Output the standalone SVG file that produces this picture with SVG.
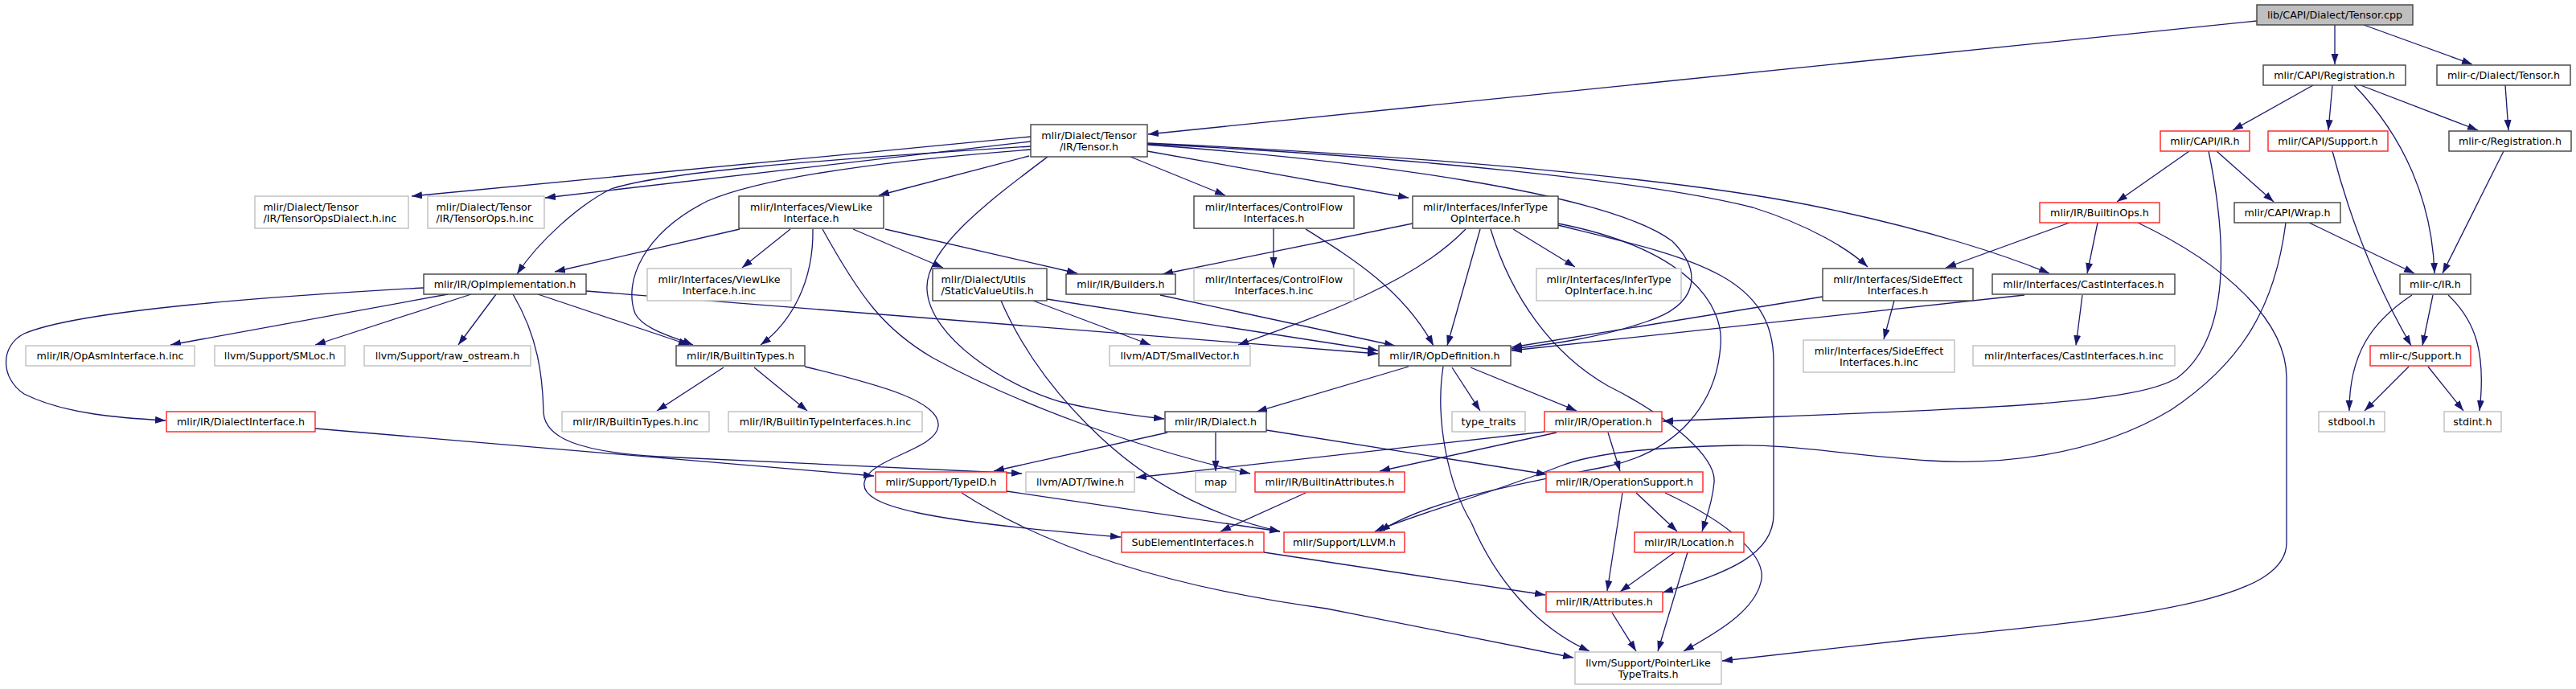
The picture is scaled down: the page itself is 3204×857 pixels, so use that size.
<svg xmlns="http://www.w3.org/2000/svg" width="3204" height="857" viewBox="0 0 3204 857">
<defs>
<marker id="a" markerUnits="userSpaceOnUse" markerWidth="14" markerHeight="10" refX="13" refY="4.5" orient="auto"><path d="M0,0 L13,4.5 L0,9 z" fill="#191970"/></marker>
<style>
.b{fill:#fff;stroke:#404040;stroke-width:1.4}
.g{fill:#fff;stroke:#bfbfbf;stroke-width:1.4}
.r{fill:#fff;stroke:#ff2020;stroke-width:1.4}
.root{fill:#bfbfbf;stroke:#404040;stroke-width:1.4}
text{font-family:"DejaVu Sans",sans-serif;font-size:12.7px;fill:#000;text-anchor:middle}
text.l{text-anchor:start}
.e path{fill:none;stroke:#191970;stroke-width:1.3;marker-end:url(#a)}
</style>
</defs>
<rect width="3204" height="857" fill="#fff"/>
<g id="edges" class="e">
<path d="M2807,26 L1428,167"/>
<path d="M2904,31 L2904,80"/>
<path d="M2940,31 L3075,80"/>
<path d="M2877,106 L2777,162"/>
<path d="M2901,106 L2896,162"/>
<path d="M2928,106 C2990,170 3025,250 3028,340"/>
<path d="M2936,106 L3082,162"/>
<path d="M3116,106 L3120,162"/>
<path d="M3114,188 L3038,340"/>
<path d="M2723,188 L2633,251"/>
<path d="M2757,188 L2828,251"/>
<path d="M2747,188 C2770,300 2775,420 2708,470 C2650,505 2450,508 2068,524"/>
<path d="M2901,188 C2930,300 2970,380 2999,430"/>
<path d="M2574,277 L2420,333"/>
<path d="M2609,277 L2596,340"/>
<path d="M2659,277 C2770,330 2844,400 2844,470 L2844,675 C2844,740 2700,765 2400,793 L2142,822"/>
<path d="M2872,277 L3003,340"/>
<path d="M2843,277 C2830,380 2790,450 2700,510 C2600,570 2480,578 2400,573 C2300,566 2220,552 2160,554 C2080,556 1990,560 1940,580 C1850,615 1760,640 1710,661"/>
<path d="M3026,367 L3013,430"/>
<path d="M3000,367 C2950,400 2922,440 2922,511"/>
<path d="M3045,367 C3080,400 3092,440 3084,511"/>
<path d="M2996,456 L2941,511"/>
<path d="M3020,456 L3064,511"/>
<path d="M2590,367 L2582,430"/>
<path d="M2518,367 L1880,436"/>
<path d="M2356,374 L2343,422"/>
<path d="M2267,369 L1880,432"/>
<path d="M1282,170 L512,244"/>
<path d="M1282,176 L678,246"/>
<path d="M1282,182 C1000,200 820,215 760,235 C720,255 670,300 643,341"/>
<path d="M1282,186 C1100,200 950,220 880,250 C800,290 775,350 790,390 C800,410 840,420 862,429"/>
<path d="M1280,194 L1093,243"/>
<path d="M1303,195 C1230,250 1150,310 1153,360 C1156,420 1250,480 1320,500 C1370,512 1420,518 1448,521"/>
<path d="M1406,195 L1524,243"/>
<path d="M1427,188 L1752,246"/>
<path d="M1427,180 C1700,200 2000,240 2080,300 C2120,340 2110,380 2048,400 C1990,420 1930,428 1880,434"/>
<path d="M1427,179 C1750,195 2050,225 2180,258 C2250,280 2300,310 2323,332"/>
<path d="M1427,178 C1800,195 2100,225 2250,255 C2400,285 2500,320 2549,340"/>
<path d="M920,285 L690,338"/>
<path d="M983,285 L923,333"/>
<path d="M1011,285 C1012,350 985,400 946,429"/>
<path d="M1023,285 C1070,370 1100,410 1160,445 C1260,500 1420,560 1555,589"/>
<path d="M1101,285 L1340,340"/>
<path d="M1061,285 L1173,333"/>
<path d="M557,366 L212,429"/>
<path d="M586,366 L392,429"/>
<path d="M617,366 L570,429"/>
<path d="M527,358 C350,368 100,385 30,415 C0,430 0,470 30,490 C80,515 150,520 206,523"/>
<path d="M669,366 L857,429"/>
<path d="M729,362 L1714,440"/>
<path d="M638,366 C670,420 675,470 676,513 C678,545 720,562 820,568 L1271,589"/>
<path d="M392,533 L1087,592"/>
<path d="M1285,374 L1431,429"/>
<path d="M1302,372 L1714,436"/>
<path d="M1245,374 C1265,420 1300,480 1370,545 C1440,610 1520,645 1592,661"/>
<path d="M1443,367 L1735,430"/>
<path d="M1584,284 L1584,333"/>
<path d="M1624,285 C1680,320 1745,360 1783,430"/>
<path d="M1757,278 L1446,341"/>
<path d="M1823,285 C1760,350 1650,390 1540,429"/>
<path d="M1841,285 L1800,430"/>
<path d="M1882,285 L1959,332"/>
<path d="M1854,285 C1880,370 1930,440 2000,480 C2080,520 2135,570 2132,600 C2130,625 2122,645 2117,661"/>
<path d="M1938,278 C2100,310 2145,380 2140,430 C2135,500 2090,560 2000,580 C1900,600 1780,620 1716,661"/>
<path d="M1938,280 C2100,320 2206,340 2206,450 L2206,640 C2206,690 2150,712 2068,737"/>
<path d="M900,457 L817,511"/>
<path d="M938,457 L1004,511"/>
<path d="M1001,456 C1100,480 1170,500 1167,530 C1164,560 1080,570 1075,600 C1070,630 1150,648 1394,668"/>
<path d="M1752,456 L1563,512"/>
<path d="M1806,457 L1841,511"/>
<path d="M1829,457 L1961,511"/>
<path d="M1795,456 C1785,520 1800,600 1830,650 C1860,720 1910,780 1977,810"/>
<path d="M1452,538 L1236,586"/>
<path d="M1512,538 L1512,586"/>
<path d="M1575,535 L1924,590"/>
<path d="M1921,537 L1413,594"/>
<path d="M1936,538 L1716,586"/>
<path d="M2000,538 L2015,586"/>
<path d="M1252,611 L1592,661"/>
<path d="M1196,613 C1300,680 1450,730 1650,757 L1957,818"/>
<path d="M1624,613 L1518,661"/>
<path d="M2018,613 L1999,735"/>
<path d="M2035,613 L2086,661"/>
<path d="M2071,613 C2150,650 2195,690 2191,720 C2185,760 2130,790 2094,810"/>
<path d="M1572,687 L1922,740"/>
<path d="M2083,687 L2015,736"/>
<path d="M2099,687 L2062,810"/>
<path d="M2005,762 L2035,810"/>
</g>
<g id="n1"><rect class="root" x="2807" y="6" width="194" height="25"/><text x="2904" y="23">lib/CAPI/Dialect/Tensor.cpp</text></g>
<g id="n2"><rect class="b" x="2815" y="81" width="177" height="25"/><text x="2903.5" y="98">mlir/CAPI/Registration.h</text></g>
<g id="n3"><rect class="b" x="3031" y="81" width="166" height="25"/><text x="3114" y="98">mlir-c/Dialect/Tensor.h</text></g>
<g id="n4"><rect class="b" x="1282" y="155" width="145" height="40"/><text x="1354.5" y="172.5">mlir/Dialect/Tensor</text><text x="1354.5" y="186.5">/IR/Tensor.h</text></g>
<g id="n5"><rect class="r" x="2687" y="163" width="111" height="25"/><text x="2742.5" y="180">mlir/CAPI/IR.h</text></g>
<g id="n6"><rect class="r" x="2821" y="163" width="149" height="25"/><text x="2895.5" y="180">mlir/CAPI/Support.h</text></g>
<g id="n7"><rect class="b" x="3046" y="163" width="152" height="25"/><text x="3122" y="180">mlir-c/Registration.h</text></g>
<g id="n8"><rect class="g" x="317" y="244" width="191" height="40"/><text class="l" x="327.5" y="261.5">mlir/Dialect/Tensor</text><text class="l" x="327.5" y="275.5">/IR/TensorOpsDialect.h.inc</text></g>
<g id="n9"><rect class="g" x="532" y="244" width="145" height="40"/><text class="l" x="542.5" y="261.5">mlir/Dialect/Tensor</text><text class="l" x="542.5" y="275.5">/IR/TensorOps.h.inc</text></g>
<g id="n10"><rect class="b" x="919" y="244" width="180" height="40"/><text x="1009" y="261.5">mlir/Interfaces/ViewLike</text><text x="1009" y="275.5">Interface.h</text></g>
<g id="n11"><rect class="b" x="1485" y="244" width="199" height="40"/><text x="1584.5" y="261.5">mlir/Interfaces/ControlFlow</text><text x="1584.5" y="275.5">Interfaces.h</text></g>
<g id="n12"><rect class="b" x="1757" y="244" width="181" height="40"/><text x="1847.5" y="261.5">mlir/Interfaces/InferType</text><text x="1847.5" y="275.5">OpInterface.h</text></g>
<g id="n13"><rect class="r" x="2537" y="252" width="149" height="25"/><text x="2611.5" y="269">mlir/IR/BuiltinOps.h</text></g>
<g id="n14"><rect class="b" x="2779" y="252" width="132" height="25"/><text x="2845" y="269">mlir/CAPI/Wrap.h</text></g>
<g id="n15"><rect class="b" x="527" y="341" width="202" height="25"/><text x="628" y="358">mlir/IR/OpImplementation.h</text></g>
<g id="n16"><rect class="g" x="805" y="334" width="179" height="40"/><text x="894.5" y="351.5">mlir/Interfaces/ViewLike</text><text x="894.5" y="365.5">Interface.h.inc</text></g>
<g id="n17"><rect class="b" x="1160" y="334" width="142" height="40"/><text class="l" x="1170.5" y="351.5">mlir/Dialect/Utils</text><text class="l" x="1170.5" y="365.5">/StaticValueUtils.h</text></g>
<g id="n18"><rect class="b" x="1326" y="341" width="136" height="25"/><text x="1394" y="358">mlir/IR/Builders.h</text></g>
<g id="n19"><rect class="g" x="1485" y="334" width="199" height="40"/><text x="1584.5" y="351.5">mlir/Interfaces/ControlFlow</text><text x="1584.5" y="365.5">Interfaces.h.inc</text></g>
<g id="n20"><rect class="g" x="1911" y="334" width="180" height="40"/><text x="2001" y="351.5">mlir/Interfaces/InferType</text><text x="2001" y="365.5">OpInterface.h.inc</text></g>
<g id="n21"><rect class="b" x="2267" y="334" width="187" height="40"/><text x="2360.5" y="351.5">mlir/Interfaces/SideEffect</text><text x="2360.5" y="365.5">Interfaces.h</text></g>
<g id="n22"><rect class="b" x="2478" y="341" width="227" height="25"/><text x="2591.5" y="358">mlir/Interfaces/CastInterfaces.h</text></g>
<g id="n23"><rect class="b" x="2985" y="341" width="88" height="25"/><text x="3029" y="358">mlir-c/IR.h</text></g>
<g id="n24"><rect class="g" x="32" y="430" width="210" height="25"/><text x="137" y="447">mlir/IR/OpAsmInterface.h.inc</text></g>
<g id="n25"><rect class="g" x="267" y="430" width="162" height="25"/><text x="348" y="447">llvm/Support/SMLoc.h</text></g>
<g id="n26"><rect class="g" x="453" y="430" width="207" height="25"/><text x="556.5" y="447">llvm/Support/raw_ostream.h</text></g>
<g id="n27"><rect class="b" x="841" y="430" width="160" height="25"/><text x="921" y="447">mlir/IR/BuiltinTypes.h</text></g>
<g id="n28"><rect class="g" x="1380" y="430" width="175" height="25"/><text x="1467.5" y="447">llvm/ADT/SmallVector.h</text></g>
<g id="n29"><rect class="b" x="1715" y="430" width="164" height="25"/><text x="1797" y="447">mlir/IR/OpDefinition.h</text></g>
<g id="n30"><rect class="g" x="2243" y="423" width="188" height="40"/><text x="2337" y="440.5">mlir/Interfaces/SideEffect</text><text x="2337" y="454.5">Interfaces.h.inc</text></g>
<g id="n31"><rect class="g" x="2454" y="430" width="251" height="25"/><text x="2579.5" y="447">mlir/Interfaces/CastInterfaces.h.inc</text></g>
<g id="n32"><rect class="r" x="2948" y="430" width="125" height="25"/><text x="3010.5" y="447">mlir-c/Support.h</text></g>
<g id="n33"><rect class="r" x="207" y="512" width="185" height="25"/><text x="299.5" y="529">mlir/IR/DialectInterface.h</text></g>
<g id="n34"><rect class="g" x="699" y="512" width="183" height="25"/><text x="790.5" y="529">mlir/IR/BuiltinTypes.h.inc</text></g>
<g id="n35"><rect class="g" x="906" y="512" width="241" height="25"/><text x="1026.5" y="529">mlir/IR/BuiltinTypeInterfaces.h.inc</text></g>
<g id="n36"><rect class="b" x="1449" y="512" width="126" height="25"/><text x="1512" y="529">mlir/IR/Dialect.h</text></g>
<g id="n37"><rect class="g" x="1806" y="512" width="91" height="25"/><text x="1851.5" y="529">type_traits</text></g>
<g id="n38"><rect class="r" x="1921" y="512" width="146" height="25"/><text x="1994" y="529">mlir/IR/Operation.h</text></g>
<g id="n39"><rect class="g" x="2884" y="512" width="82" height="25"/><text x="2925" y="529">stdbool.h</text></g>
<g id="n40"><rect class="g" x="3040" y="512" width="71" height="25"/><text x="3075.5" y="529">stdint.h</text></g>
<g id="n41"><rect class="r" x="1089" y="587" width="163" height="25"/><text x="1170.5" y="604">mlir/Support/TypeID.h</text></g>
<g id="n42"><rect class="g" x="1276" y="587" width="135" height="25"/><text x="1343.5" y="604">llvm/ADT/Twine.h</text></g>
<g id="n43"><rect class="g" x="1487" y="587" width="50" height="25"/><text x="1512" y="604">map</text></g>
<g id="n44"><rect class="r" x="1561" y="587" width="186" height="25"/><text x="1654" y="604">mlir/IR/BuiltinAttributes.h</text></g>
<g id="n45"><rect class="r" x="1923" y="587" width="195" height="25"/><text x="2020.5" y="604">mlir/IR/OperationSupport.h</text></g>
<g id="n46"><rect class="r" x="1395" y="662" width="177" height="25"/><text x="1483.5" y="679">SubElementInterfaces.h</text></g>
<g id="n47"><rect class="r" x="1597" y="662" width="150" height="25"/><text x="1672" y="679">mlir/Support/LLVM.h</text></g>
<g id="n48"><rect class="r" x="2033" y="662" width="136" height="25"/><text x="2101" y="679">mlir/IR/Location.h</text></g>
<g id="n49"><rect class="r" x="1923" y="736" width="145" height="25"/><text x="1995.5" y="753">mlir/IR/Attributes.h</text></g>
<g id="n50"><rect class="g" x="1959" y="811" width="182" height="40"/><text x="2050" y="828.5">llvm/Support/PointerLike</text><text x="2050" y="842.5">TypeTraits.h</text></g>
</svg>
